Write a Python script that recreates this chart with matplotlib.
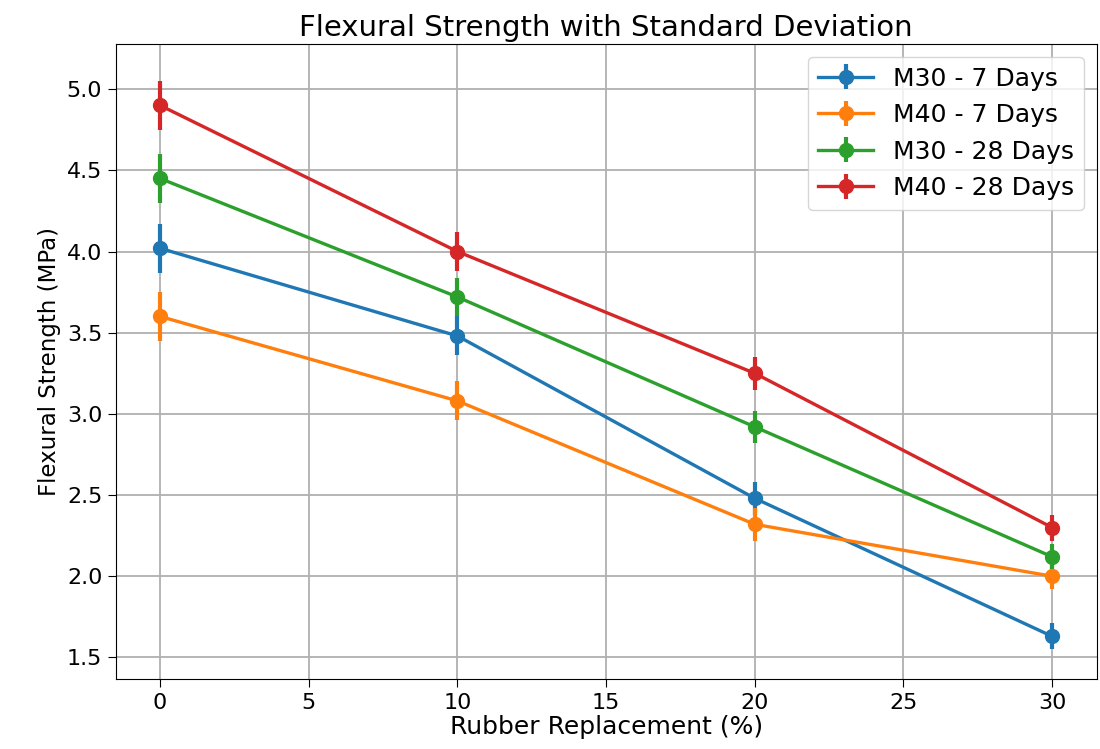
import numpy as np
import matplotlib.pyplot as plt

replacement = [0, 10, 20, 30]
std_dev = [0.15, 0.12, 0.10, 0.08]

m30_7 = [4.02, 3.48, 2.48, 1.63]
m40_7 = [3.60, 3.08, 2.32, 2.00]
m30_28 = [4.45, 3.72, 2.92, 2.12]
m40_28 = [4.90, 4.00, 3.25, 2.30]

series = [
    ("M30 - 7 Days", m30_7),
    ("M40 - 7 Days", m40_7),
    ("M30 - 28 Days", m30_28),
    ("M40 - 28 Days", m40_28),
]

fig = plt.figure(figsize=(11, 7.49), dpi=100)
ax = fig.add_axes([0.105, 0.093, 0.892, 0.848])

for label, vals in series:
    ax.errorbar(replacement, vals, yerr=std_dev, marker='o', markersize=10,
                linewidth=2.4, elinewidth=3, label=label)

ax.set_xlim(-1.5, 31.5)
ax.set_ylim(1.365, 5.277)
ax.set_title("Flexural Strength with Standard Deviation", fontsize=21)
ax.set_xlabel("Rubber Replacement (%)", fontsize=18, labelpad=2)
ax.set_ylabel("Flexural Strength (MPa)", fontsize=16.5)
ax.tick_params(labelsize=16, length=6)
ax.grid(True, linewidth=1.3)
ax.legend(fontsize=18, loc='upper right', handlelength=2.2)

fig.savefig("out.png", dpi=100)
